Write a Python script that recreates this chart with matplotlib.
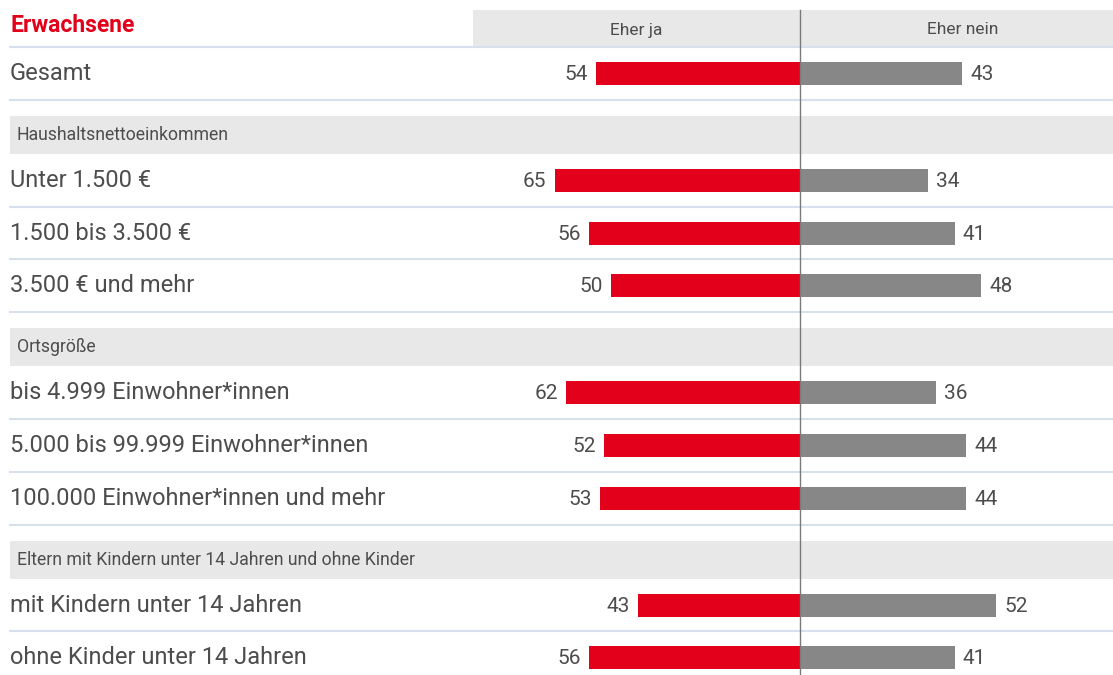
import matplotlib
matplotlib.use("Agg")
import matplotlib.pyplot as plt
from matplotlib.transforms import blended_transform_factory

# Daten
labels = ["Gesamt", "Unter 1.500 €", "1.500 bis 3.500 €", "3.500 € und mehr",
          "bis 4.999 Einwohner*innen", "5.000 bis 99.999 Einwohner*innen",
          "100.000 Einwohner*innen und mehr",
          "mit Kindern unter 14 Jahren", "ohne Kinder unter 14 Jahren"]
eher_ja = [54, 65, 56, 50, 62, 52, 53, 43, 56]
eher_nein = [43, 34, 41, 48, 36, 44, 44, 52, 41]
# Abschnittsüberschrift vor der jeweiligen Zeile
abschnitte = [None, "Haushaltsnettoeinkommen", None, None, "Ortsgröße", None, None,
              "Eltern mit Kindern unter 14 Jahren und ohne Kinder", None]
titel = "Erwachsene"
spalten = ["Eher ja", "Eher nein"]

ROT = "#e2001a"
GRAU = "#878787"
LINIE = "#d7e1ee"
BAND = "#e8e8e8"
TEXT = "#4d4d4d"

plt.rcParams["font.family"] = ["Roboto", "DejaVu Sans"]

W, H = 1113, 675
fig = plt.figure(figsize=(W / 100, H / 100), dpi=100)
ax = fig.add_axes([0, 0, 1, 1])
ax.axis("off")

# x in Prozentpunkten, Nulllinie bei Pixel 800, ~3.775 px pro Punkt
s = 3.775
x0 = 800
ax.set_xlim(-x0 / s, (W - x0) / s)
ax.set_ylim(H, 0)  # y in Pixeln von oben

tr = blended_transform_factory(ax.transAxes, ax.transData)
def fx(px):
    return px / W

# Layout der Zeilen
zeilen_h = 52.8
band_h = 38
luecke = 16
y = 47
mitten, linien, baender = [], [], []
for i, lab in enumerate(labels):
    if abschnitte[i]:
        y += luecke
        baender.append((y, abschnitte[i]))
        y += band_h
    mitten.append(y + zeilen_h / 2)
    y += zeilen_h
    linien.append(y)

# Kopfzeile
ax.axhspan(10, 47, xmin=fx(473), xmax=1, color=BAND, lw=0, zorder=0)
ax.axhline(47, xmin=fx(10), xmax=1, color=LINIE, lw=1.5, zorder=1)
ax.text(fx(636), 30, spalten[0], transform=tr, ha="center", va="center", fontsize=12.5, color=TEXT)
ax.text(fx(963), 30, spalten[1], transform=tr, ha="center", va="center", fontsize=12.5, color=TEXT)
ax.text(fx(10), 26, titel, transform=tr, ha="left", va="center", fontsize=16.5,
        fontweight="bold", color=ROT)

for yb, name in baender:
    ax.axhspan(yb, yb + band_h, xmin=fx(10), xmax=1, color=BAND, lw=0, zorder=0)
    ax.text(fx(17), yb + band_h / 2, name, transform=tr, ha="left", va="center",
            fontsize=12.7, color=TEXT)

for ly in linien:
    ax.axhline(ly, xmin=fx(10), xmax=1, color=LINIE, lw=1.5, zorder=1)

ax.barh(mitten, [-v for v in eher_ja], height=23, color=ROT, zorder=2)
ax.barh(mitten, eher_nein, height=23, color=GRAU, zorder=2)

for yc, lab, ja, nein in zip(mitten, labels, eher_ja, eher_nein):
    ax.text(fx(10), yc, lab, transform=tr, ha="left", va="center", fontsize=17, color=TEXT)
    ax.text(-ja - 8 / s, yc + 1, str(ja), ha="right", va="center", fontsize=15, color=TEXT)
    ax.text(nein + 8 / s, yc + 1, str(nein), ha="left", va="center", fontsize=15, color=TEXT)

# Mittellinie
ax.plot([0, 0], [10, H], color="#7a7a7a", lw=1, zorder=3)

fig.savefig("out.png", dpi=100)
